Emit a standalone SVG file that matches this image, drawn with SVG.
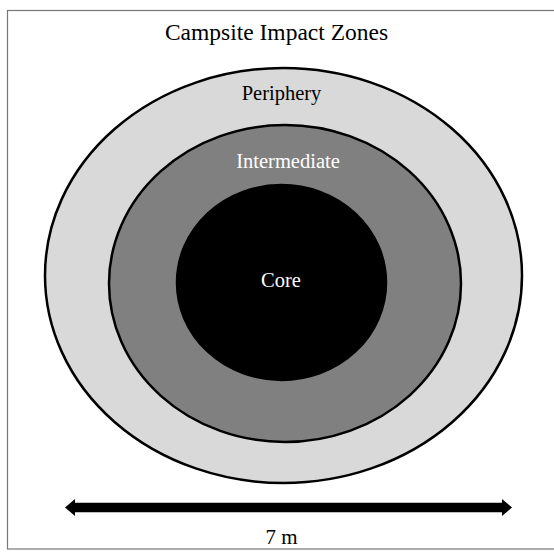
<svg xmlns="http://www.w3.org/2000/svg" width="554" height="553" viewBox="0 0 554 553">
  <style>
    .zone { stroke: #000; stroke-width: 2.5; }
    .lbl { font-family: "Liberation Serif", "Times New Roman", serif; text-anchor: middle; }
  </style>
  <defs>
    <marker id="head" viewBox="0 0 10 17" refX="0" refY="8.5" markerWidth="10" markerHeight="17" markerUnits="userSpaceOnUse" orient="auto-start-reverse">
      <path d="M0,0 L10,8.5 L0,17 Z" fill="#000"/>
    </marker>
  </defs>
  <rect x="0" y="0" width="554" height="553" fill="#fff"/>
  <rect x="7.5" y="10.5" width="560" height="538.5" fill="none" stroke="#777" stroke-width="1.2"/>
  <text class="lbl" x="276.5" y="40" font-size="23.5" fill="#000">Campsite Impact Zones</text>
  <g id="periphery">
    <ellipse class="zone" cx="283.5" cy="275.5" rx="238.5" ry="207.5" fill="#d9d9d9"/>
    <text class="lbl" x="281.5" y="100" font-size="20.5" fill="#000">Periphery</text>
  </g>
  <g id="intermediate">
    <ellipse class="zone" cx="285" cy="283.5" rx="176" ry="158.5" fill="#808080"/>
    <text class="lbl" x="288" y="168" font-size="20.5" fill="#fff">Intermediate</text>
  </g>
  <g id="core">
    <ellipse class="zone" cx="281.5" cy="282.5" rx="104.5" ry="97.5" fill="#000"/>
    <text class="lbl" x="281" y="287" font-size="20.5" fill="#fff">Core</text>
  </g>
  <g id="connectors">
    <line x1="75" y1="507.5" x2="502" y2="507.5" stroke="#000" stroke-width="9.5" marker-start="url(#head)" marker-end="url(#head)"/>
  </g>
  <text class="lbl" x="281.5" y="544" font-size="21" fill="#000">7 m</text>
</svg>
